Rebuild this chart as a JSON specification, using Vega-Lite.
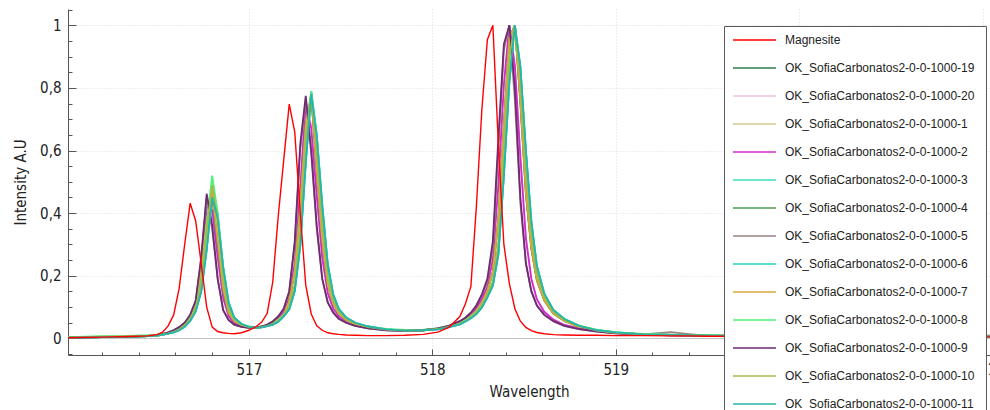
{
  "$schema": "https://vega.github.io/schema/vega-lite/v6.json",
  "width": 922,
  "height": 346,
  "autosize": {"type": "none"},
  "padding": {"left": 68, "top": 9, "right": 0, "bottom": 55},
  "background": "white",
  "config": {
    "view": {"stroke": null},
    "axis": {
      "labelFont": "DejaVu Sans Condensed, DejaVu Sans, sans-serif",
      "titleFont": "DejaVu Sans Condensed, DejaVu Sans, sans-serif",
      "labelFontSize": 15,
      "titleFontSize": 15,
      "titleFontWeight": "normal",
      "labelColor": "#222222",
      "titleColor": "#222222",
      "domainColor": "#555555",
      "tickColor": "#555555"
    }
  },
  "data": {
    "values": [
      {"x":516.0,"m":0.002,"a19":0.002,"a20":0.002,"a1":0.002,"a2":0.002,"a3":0.002,"a4":0.002,"a5":0.002,"a6":0.002,"a7":0.002,"a8":0.004,"a9":0.002,"a10":0.003,"a11":0.002},
      {"x":516.2,"m":0.004,"a19":0.004,"a20":0.004,"a1":0.004,"a2":0.004,"a3":0.004,"a4":0.004,"a5":0.004,"a6":0.004,"a7":0.004,"a8":0.007,"a9":0.004,"a10":0.006,"a11":0.004},
      {"x":516.35,"m":0.006,"a19":0.005,"a20":0.006,"a1":0.005,"a2":0.006,"a3":0.005,"a4":0.005,"a5":0.006,"a6":0.005,"a7":0.005,"a8":0.008,"a9":0.006,"a10":0.007,"a11":0.005},
      {"x":516.45,"m":0.008,"a19":0.007,"a20":0.008,"a1":0.007,"a2":0.008,"a3":0.007,"a4":0.007,"a5":0.008,"a6":0.007,"a7":0.007,"a8":0.01,"a9":0.008,"a10":0.009,"a11":0.007},
      {"x":516.5,"m":0.012,"a19":0.009,"a20":0.011,"a1":0.009,"a2":0.011,"a3":0.009,"a4":0.009,"a5":0.011,"a6":0.009,"a7":0.009,"a8":0.012,"a9":0.011,"a10":0.011,"a11":0.009},
      {"x":516.53,"m":0.02,"a19":0.012,"a20":0.014,"a1":0.012,"a2":0.014,"a3":0.012,"a4":0.012,"a5":0.014,"a6":0.012,"a7":0.012,"a8":0.015,"a9":0.014,"a10":0.013,"a11":0.012},
      {"x":516.56,"m":0.04,"a19":0.016,"a20":0.018,"a1":0.015,"a2":0.018,"a3":0.015,"a4":0.016,"a5":0.019,"a6":0.015,"a7":0.016,"a8":0.018,"a9":0.019,"a10":0.016,"a11":0.015},
      {"x":516.59,"m":0.075,"a19":0.022,"a20":0.024,"a1":0.02,"a2":0.024,"a3":0.019,"a4":0.022,"a5":0.026,"a6":0.019,"a7":0.022,"a8":0.023,"a9":0.026,"a10":0.021,"a11":0.019},
      {"x":516.62,"m":0.16,"a19":0.031,"a20":0.033,"a1":0.028,"a2":0.033,"a3":0.026,"a4":0.031,"a5":0.036,"a6":0.026,"a7":0.031,"a8":0.031,"a9":0.036,"a10":0.029,"a11":0.026},
      {"x":516.65,"m":0.3,"a19":0.045,"a20":0.046,"a1":0.04,"a2":0.046,"a3":0.037,"a4":0.045,"a5":0.05,"a6":0.037,"a7":0.045,"a8":0.043,"a9":0.05,"a10":0.041,"a11":0.037},
      {"x":516.68,"m":0.432,"a19":0.065,"a20":0.068,"a1":0.06,"a2":0.068,"a3":0.056,"a4":0.065,"a5":0.075,"a6":0.056,"a7":0.065,"a8":0.064,"a9":0.075,"a10":0.062,"a11":0.056},
      {"x":516.71,"m":0.375,"a19":0.115,"a20":0.1,"a1":0.095,"a2":0.1,"a3":0.086,"a4":0.115,"a5":0.12,"a6":0.086,"a7":0.115,"a8":0.1,"a9":0.12,"a10":0.097,"a11":0.086},
      {"x":516.74,"m":0.24,"a19":0.21,"a20":0.195,"a1":0.17,"a2":0.19,"a3":0.15,"a4":0.21,"a5":0.25,"a6":0.15,"a7":0.215,"a8":0.18,"a9":0.26,"a10":0.175,"a11":0.148},
      {"x":516.77,"m":0.1,"a19":0.37,"a20":0.41,"a1":0.33,"a2":0.42,"a3":0.29,"a4":0.36,"a5":0.45,"a6":0.285,"a7":0.375,"a8":0.36,"a9":0.462,"a10":0.345,"a11":0.28},
      {"x":516.8,"m":0.036,"a19":0.46,"a20":0.4,"a1":0.47,"a2":0.41,"a3":0.47,"a4":0.45,"a5":0.35,"a6":0.46,"a7":0.47,"a8":0.52,"a9":0.36,"a10":0.49,"a11":0.45},
      {"x":516.83,"m":0.022,"a19":0.31,"a20":0.25,"a1":0.36,"a2":0.26,"a3":0.4,"a4":0.3,"a5":0.19,"a6":0.39,"a7":0.315,"a8":0.4,"a9":0.19,"a10":0.375,"a11":0.385},
      {"x":516.86,"m":0.018,"a19":0.155,"a20":0.125,"a1":0.18,"a2":0.13,"a3":0.23,"a4":0.15,"a5":0.09,"a6":0.228,"a7":0.16,"a8":0.2,"a9":0.09,"a10":0.19,"a11":0.225},
      {"x":516.89,"m":0.016,"a19":0.08,"a20":0.07,"a1":0.09,"a2":0.071,"a3":0.115,"a4":0.08,"a5":0.058,"a6":0.114,"a7":0.082,"a8":0.1,"a9":0.058,"a10":0.092,"a11":0.112},
      {"x":516.92,"m":0.015,"a19":0.055,"a20":0.048,"a1":0.058,"a2":0.048,"a3":0.067,"a4":0.055,"a5":0.044,"a6":0.067,"a7":0.056,"a8":0.062,"a9":0.044,"a10":0.059,"a11":0.066},
      {"x":516.96,"m":0.018,"a19":0.042,"a20":0.039,"a1":0.043,"a2":0.039,"a3":0.046,"a4":0.042,"a5":0.037,"a6":0.046,"a7":0.042,"a8":0.045,"a9":0.037,"a10":0.043,"a11":0.046},
      {"x":517.0,"m":0.026,"a19":0.035,"a20":0.035,"a1":0.036,"a2":0.035,"a3":0.037,"a4":0.035,"a5":0.034,"a6":0.037,"a7":0.035,"a8":0.038,"a9":0.034,"a10":0.036,"a11":0.037},
      {"x":517.04,"m":0.038,"a19":0.034,"a20":0.035,"a1":0.034,"a2":0.035,"a3":0.034,"a4":0.034,"a5":0.035,"a6":0.034,"a7":0.034,"a8":0.036,"a9":0.035,"a10":0.034,"a11":0.034},
      {"x":517.07,"m":0.052,"a19":0.037,"a20":0.037,"a1":0.036,"a2":0.037,"a3":0.035,"a4":0.037,"a5":0.038,"a6":0.035,"a7":0.037,"a8":0.038,"a9":0.038,"a10":0.036,"a11":0.035},
      {"x":517.1,"m":0.08,"a19":0.042,"a20":0.042,"a1":0.04,"a2":0.042,"a3":0.039,"a4":0.042,"a5":0.044,"a6":0.039,"a7":0.042,"a8":0.042,"a9":0.044,"a10":0.04,"a11":0.039},
      {"x":517.13,"m":0.18,"a19":0.049,"a20":0.05,"a1":0.046,"a2":0.05,"a3":0.044,"a4":0.049,"a5":0.054,"a6":0.044,"a7":0.049,"a8":0.048,"a9":0.054,"a10":0.046,"a11":0.044},
      {"x":517.16,"m":0.39,"a19":0.06,"a20":0.064,"a1":0.056,"a2":0.064,"a3":0.053,"a4":0.06,"a5":0.07,"a6":0.053,"a7":0.06,"a8":0.058,"a9":0.07,"a10":0.056,"a11":0.053},
      {"x":517.19,"m":0.57,"a19":0.076,"a20":0.085,"a1":0.072,"a2":0.085,"a3":0.07,"a4":0.076,"a5":0.095,"a6":0.07,"a7":0.076,"a8":0.074,"a9":0.095,"a10":0.072,"a11":0.07},
      {"x":517.22,"m":0.748,"a19":0.119,"a20":0.128,"a1":0.1,"a2":0.128,"a3":0.093,"a4":0.119,"a5":0.15,"a6":0.093,"a7":0.119,"a8":0.1,"a9":0.15,"a10":0.1,"a11":0.093},
      {"x":517.25,"m":0.66,"a19":0.215,"a20":0.24,"a1":0.17,"a2":0.24,"a3":0.151,"a4":0.215,"a5":0.3,"a6":0.151,"a7":0.215,"a8":0.17,"a9":0.31,"a10":0.17,"a11":0.151},
      {"x":517.28,"m":0.4,"a19":0.42,"a20":0.48,"a1":0.34,"a2":0.48,"a3":0.295,"a4":0.42,"a5":0.6,"a6":0.295,"a7":0.42,"a8":0.34,"a9":0.62,"a10":0.34,"a11":0.295},
      {"x":517.31,"m":0.17,"a19":0.68,"a20":0.74,"a1":0.64,"a2":0.75,"a3":0.56,"a4":0.68,"a5":0.76,"a6":0.56,"a7":0.68,"a8":0.64,"a9":0.775,"a10":0.64,"a11":0.56},
      {"x":517.34,"m":0.078,"a19":0.78,"a20":0.68,"a1":0.78,"a2":0.67,"a3":0.79,"a4":0.77,"a5":0.59,"a6":0.785,"a7":0.78,"a8":0.79,"a9":0.6,"a10":0.78,"a11":0.78},
      {"x":517.37,"m":0.04,"a19":0.536,"a20":0.456,"a1":0.6,"a2":0.456,"a3":0.65,"a4":0.53,"a5":0.35,"a6":0.65,"a7":0.54,"a8":0.63,"a9":0.36,"a10":0.61,"a11":0.645},
      {"x":517.4,"m":0.026,"a19":0.315,"a20":0.258,"a1":0.36,"a2":0.258,"a3":0.424,"a4":0.31,"a5":0.19,"a6":0.43,"a7":0.315,"a8":0.39,"a9":0.19,"a10":0.37,"a11":0.42},
      {"x":517.43,"m":0.018,"a19":0.171,"a20":0.145,"a1":0.19,"a2":0.145,"a3":0.235,"a4":0.17,"a5":0.115,"a6":0.24,"a7":0.171,"a8":0.21,"a9":0.115,"a10":0.19,"a11":0.235},
      {"x":517.46,"m":0.015,"a19":0.111,"a20":0.095,"a1":0.12,"a2":0.095,"a3":0.139,"a4":0.11,"a5":0.082,"a6":0.14,"a7":0.111,"a8":0.13,"a9":0.082,"a10":0.12,"a11":0.139},
      {"x":517.49,"m":0.013,"a19":0.079,"a20":0.071,"a1":0.085,"a2":0.071,"a3":0.094,"a4":0.079,"a5":0.063,"a6":0.095,"a7":0.079,"a8":0.09,"a9":0.063,"a10":0.085,"a11":0.094},
      {"x":517.53,"m":0.011,"a19":0.059,"a20":0.054,"a1":0.062,"a2":0.054,"a3":0.067,"a4":0.059,"a5":0.05,"a6":0.067,"a7":0.059,"a8":0.065,"a9":0.05,"a10":0.062,"a11":0.067},
      {"x":517.58,"m":0.01,"a19":0.045,"a20":0.042,"a1":0.047,"a2":0.042,"a3":0.05,"a4":0.045,"a5":0.04,"a6":0.05,"a7":0.045,"a8":0.049,"a9":0.04,"a10":0.047,"a11":0.05},
      {"x":517.65,"m":0.009,"a19":0.035,"a20":0.033,"a1":0.036,"a2":0.033,"a3":0.038,"a4":0.035,"a5":0.032,"a6":0.038,"a7":0.035,"a8":0.038,"a9":0.032,"a10":0.036,"a11":0.038},
      {"x":517.75,"m":0.009,"a19":0.028,"a20":0.027,"a1":0.028,"a2":0.027,"a3":0.029,"a4":0.028,"a5":0.026,"a6":0.029,"a7":0.028,"a8":0.03,"a9":0.026,"a10":0.028,"a11":0.029},
      {"x":517.85,"m":0.01,"a19":0.025,"a20":0.024,"a1":0.025,"a2":0.024,"a3":0.025,"a4":0.025,"a5":0.024,"a6":0.025,"a7":0.025,"a8":0.027,"a9":0.024,"a10":0.025,"a11":0.025},
      {"x":517.95,"m":0.013,"a19":0.026,"a20":0.026,"a1":0.026,"a2":0.026,"a3":0.026,"a4":0.026,"a5":0.026,"a6":0.026,"a7":0.026,"a8":0.028,"a9":0.026,"a10":0.026,"a11":0.026},
      {"x":518.03,"m":0.02,"a19":0.031,"a20":0.031,"a1":0.03,"a2":0.031,"a3":0.029,"a4":0.031,"a5":0.032,"a6":0.029,"a7":0.031,"a8":0.032,"a9":0.032,"a10":0.03,"a11":0.029},
      {"x":518.09,"m":0.035,"a19":0.039,"a20":0.039,"a1":0.037,"a2":0.039,"a3":0.036,"a4":0.039,"a5":0.04,"a6":0.036,"a7":0.039,"a8":0.039,"a9":0.04,"a10":0.037,"a11":0.036},
      {"x":518.15,"m":0.07,"a19":0.05,"a20":0.052,"a1":0.047,"a2":0.052,"a3":0.045,"a4":0.05,"a5":0.055,"a6":0.045,"a7":0.05,"a8":0.049,"a9":0.055,"a10":0.047,"a11":0.045},
      {"x":518.18,"m":0.11,"a19":0.059,"a20":0.062,"a1":0.056,"a2":0.062,"a3":0.054,"a4":0.059,"a5":0.066,"a6":0.054,"a7":0.059,"a8":0.058,"a9":0.066,"a10":0.056,"a11":0.054},
      {"x":518.21,"m":0.165,"a19":0.071,"a20":0.076,"a1":0.067,"a2":0.076,"a3":0.064,"a4":0.071,"a5":0.082,"a6":0.064,"a7":0.071,"a8":0.069,"a9":0.082,"a10":0.067,"a11":0.064},
      {"x":518.24,"m":0.42,"a19":0.088,"a20":0.096,"a1":0.082,"a2":0.096,"a3":0.078,"a4":0.088,"a5":0.105,"a6":0.078,"a7":0.088,"a8":0.084,"a9":0.105,"a10":0.082,"a11":0.078},
      {"x":518.27,"m":0.73,"a19":0.114,"a20":0.126,"a1":0.105,"a2":0.126,"a3":0.099,"a4":0.114,"a5":0.14,"a6":0.099,"a7":0.114,"a8":0.105,"a9":0.14,"a10":0.105,"a11":0.099},
      {"x":518.3,"m":0.954,"a19":0.151,"a20":0.164,"a1":0.14,"a2":0.164,"a3":0.131,"a4":0.151,"a5":0.18,"a6":0.131,"a7":0.151,"a8":0.14,"a9":0.19,"a10":0.14,"a11":0.131},
      {"x":518.33,"m":1.0,"a19":0.212,"a20":0.252,"a1":0.18,"a2":0.252,"a3":0.169,"a4":0.212,"a5":0.29,"a6":0.169,"a7":0.212,"a8":0.18,"a9":0.31,"a10":0.18,"a11":0.169},
      {"x":518.36,"m":0.62,"a19":0.38,"a20":0.49,"a1":0.3,"a2":0.49,"a3":0.268,"a4":0.38,"a5":0.6,"a6":0.268,"a7":0.38,"a8":0.29,"a9":0.64,"a10":0.3,"a11":0.268},
      {"x":518.39,"m":0.3,"a19":0.68,"a20":0.806,"a1":0.6,"a2":0.81,"a3":0.52,"a4":0.68,"a5":0.92,"a6":0.52,"a7":0.68,"a8":0.58,"a9":0.94,"a10":0.6,"a11":0.52},
      {"x":518.42,"m":0.175,"a19":0.96,"a20":1.0,"a1":0.9,"a2":1.0,"a3":0.82,"a4":0.96,"a5":1.0,"a6":0.82,"a7":0.96,"a8":0.89,"a9":1.0,"a10":0.9,"a11":0.82},
      {"x":518.45,"m":0.095,"a19":1.0,"a20":0.868,"a1":1.0,"a2":0.87,"a3":1.0,"a4":1.0,"a5":0.76,"a6":1.0,"a7":1.0,"a8":1.0,"a9":0.8,"a10":1.0,"a11":1.0},
      {"x":518.48,"m":0.055,"a19":0.76,"a20":0.576,"a1":0.82,"a2":0.58,"a3":0.868,"a4":0.75,"a5":0.43,"a6":0.87,"a7":0.76,"a8":0.85,"a9":0.45,"a10":0.83,"a11":0.865},
      {"x":518.51,"m":0.035,"a19":0.467,"a20":0.32,"a1":0.52,"a2":0.32,"a3":0.6,"a4":0.46,"a5":0.24,"a6":0.6,"a7":0.47,"a8":0.55,"a9":0.24,"a10":0.53,"a11":0.6},
      {"x":518.54,"m":0.025,"a19":0.288,"a20":0.186,"a1":0.32,"a2":0.19,"a3":0.373,"a4":0.285,"a5":0.15,"a6":0.373,"a7":0.29,"a8":0.35,"a9":0.15,"a10":0.33,"a11":0.37},
      {"x":518.57,"m":0.019,"a19":0.186,"a20":0.123,"a1":0.2,"a2":0.125,"a3":0.232,"a4":0.185,"a5":0.105,"a6":0.232,"a7":0.186,"a8":0.22,"a9":0.105,"a10":0.205,"a11":0.23},
      {"x":518.61,"m":0.015,"a19":0.122,"a20":0.084,"a1":0.13,"a2":0.085,"a3":0.144,"a4":0.121,"a5":0.075,"a6":0.144,"a7":0.122,"a8":0.14,"a9":0.075,"a10":0.133,"a11":0.143},
      {"x":518.66,"m":0.012,"a19":0.079,"a20":0.06,"a1":0.083,"a2":0.06,"a3":0.091,"a4":0.079,"a5":0.055,"a6":0.091,"a7":0.079,"a8":0.09,"a9":0.055,"a10":0.085,"a11":0.09},
      {"x":518.72,"m":0.011,"a19":0.056,"a20":0.043,"a1":0.058,"a2":0.043,"a3":0.062,"a4":0.056,"a5":0.04,"a6":0.062,"a7":0.056,"a8":0.062,"a9":0.04,"a10":0.059,"a11":0.062},
      {"x":518.8,"m":0.01,"a19":0.037,"a20":0.032,"a1":0.038,"a2":0.032,"a3":0.04,"a4":0.037,"a5":0.03,"a6":0.04,"a7":0.037,"a8":0.041,"a9":0.03,"a10":0.039,"a11":0.04},
      {"x":518.9,"m":0.01,"a19":0.025,"a20":0.023,"a1":0.025,"a2":0.023,"a3":0.026,"a4":0.025,"a5":0.022,"a6":0.026,"a7":0.025,"a8":0.027,"a9":0.022,"a10":0.025,"a11":0.026},
      {"x":519.0,"m":0.009,"a19":0.018,"a20":0.017,"a1":0.018,"a2":0.017,"a3":0.019,"a4":0.018,"a5":0.016,"a6":0.019,"a7":0.018,"a8":0.02,"a9":0.016,"a10":0.018,"a11":0.019},
      {"x":519.15,"m":0.009,"a19":0.013,"a20":0.012,"a1":0.013,"a2":0.012,"a3":0.013,"a4":0.013,"a5":0.013,"a6":0.013,"a7":0.013,"a8":0.014,"a9":0.012,"a10":0.013,"a11":0.013},
      {"x":519.3,"m":0.008,"a19":0.011,"a20":0.01,"a1":0.011,"a2":0.01,"a3":0.011,"a4":0.011,"a5":0.02,"a6":0.011,"a7":0.011,"a8":0.012,"a9":0.01,"a10":0.011,"a11":0.011},
      {"x":519.4,"m":0.008,"a19":0.01,"a20":0.009,"a1":0.01,"a2":0.009,"a3":0.01,"a4":0.01,"a5":0.014,"a6":0.01,"a7":0.01,"a8":0.011,"a9":0.009,"a10":0.01,"a11":0.01},
      {"x":519.5,"m":0.007,"a19":0.009,"a20":0.008,"a1":0.009,"a2":0.008,"a3":0.009,"a4":0.009,"a5":0.009,"a6":0.009,"a7":0.009,"a8":0.01,"a9":0.008,"a10":0.009,"a11":0.009},
      {"x":519.7,"m":0.007,"a19":0.008,"a20":0.007,"a1":0.008,"a2":0.007,"a3":0.008,"a4":0.008,"a5":0.007,"a6":0.008,"a7":0.008,"a8":0.009,"a9":0.007,"a10":0.008,"a11":0.008},
      {"x":520.0,"m":0.006,"a19":0.007,"a20":0.006,"a1":0.007,"a2":0.006,"a3":0.007,"a4":0.007,"a5":0.006,"a6":0.007,"a7":0.007,"a8":0.008,"a9":0.006,"a10":0.007,"a11":0.007},
      {"x":520.3,"m":0.005,"a19":0.006,"a20":0.006,"a1":0.006,"a2":0.006,"a3":0.006,"a4":0.006,"a5":0.006,"a6":0.006,"a7":0.006,"a8":0.007,"a9":0.006,"a10":0.006,"a11":0.006},
      {"x":520.6,"m":0.005,"a19":0.006,"a20":0.005,"a1":0.006,"a2":0.005,"a3":0.006,"a4":0.006,"a5":0.006,"a6":0.006,"a7":0.006,"a8":0.007,"a9":0.005,"a10":0.006,"a11":0.006},
      {"x":520.9,"m":0.005,"a19":0.005,"a20":0.005,"a1":0.005,"a2":0.005,"a3":0.005,"a4":0.005,"a5":0.014,"a6":0.005,"a7":0.005,"a8":0.006,"a9":0.005,"a10":0.005,"a11":0.005},
      {"x":521.1,"m":0.005,"a19":0.005,"a20":0.005,"a1":0.005,"a2":0.005,"a3":0.005,"a4":0.005,"a5":0.006,"a6":0.005,"a7":0.005,"a8":0.006,"a9":0.005,"a10":0.005,"a11":0.005}
    ]
  },
  "transform": [
    {"fold": ["m","a19","a20","a1","a2","a3","a4","a5","a6","a7","a8","a9","a10","a11"], "as": ["k","v"]}
  ],
  "layer": [
    {
      "transform": [{"filter": "datum.k != 'm'"}],
      "mark": {"type": "line", "strokeWidth": 1.8, "clip": true},
      "encoding": {
        "x": {
          "field": "x", "type": "quantitative",
          "scale": {"domain": [516.014, 521.04], "nice": false, "zero": false},
          "axis": {
            "orient": "bottom", "values": [517, 518, 519, 520, 521], "title": "Wavelength",
            "grid": true, "gridColor": "#dcdcdc", "gridDash": [1, 2],
            "tickSize": -6, "labelPadding": 13, "titlePadding": 7,
            "labelFlush": false, "labelOverlap": false
          }
        },
        "y": {
          "field": "v", "type": "quantitative",
          "scale": {"domain": [-0.053, 1.052], "nice": false, "zero": false},
          "axis": {
            "orient": "left", "values": [0, 0.2, 0.4, 0.6, 0.8, 1], "title": "Intensity A.U",
            "grid": true,
            "gridColor": {"condition": {"test": "datum.value === 0", "value": "#c4c4c4"}, "value": "#dcdcdc"},
            "gridDash": {"condition": {"test": "datum.value === 0", "value": []}, "value": [1, 2]},
            "tickSize": -8, "labelPadding": 15, "titlePadding": 11,
            "labelExpr": "replace(format(datum.value, '~g'), '.', ',')",
            "labelFlush": false, "labelOverlap": false
          }
        },
        "color": {
          "field": "k", "type": "nominal",
          "scale": {
            "domain": ["m","a19","a20","a1","a2","a3","a4","a5","a6","a7","a8","a9","a10","a11"],
            "range": ["#ff0000","#2e7d4a","#f0c0e4","#d8c890","#d428d0","#3cdcbc","#4a9e4a","#9c8080","#20d4c4","#d8a83c","#4cf07c","#6e2a72","#a8ba48","#28b4a8"]
          },
          "legend": {
            "orient": "none", "legendX": 656, "legendY": 17,
            "zindex": 5,
            "title": "\u00a0", "titleOrient": "right", "titlePadding": 12,
            "titleFont": "Liberation Sans", "titleFontSize": 12,
            "fillColor": "white", "strokeColor": "#5a5a5a",
            "padding": 0,
            "symbolType": "stroke", "symbolSize": 1849, "symbolStrokeWidth": 1.5,
            "symbolOffset": 8, "labelOffset": 8,
            "clipHeight": 28, "rowPadding": 0,
            "labelFont": "Liberation Sans", "labelFontSize": 12, "labelColor": "#222222",
            "labelLimit": 400,
            "labelExpr": "datum.value === 'm' ? 'Magnesite' : 'OK_SofiaCarbonatos2-0-0-1000-' + slice(datum.value, 1)"
          }
        }
      }
    },
    {
      "transform": [{"filter": "datum.k == 'm'"}],
      "mark": {"type": "line", "strokeWidth": 1.4, "clip": true},
      "encoding": {
        "x": {
          "field": "x", "type": "quantitative",
          "axis": {
            "orient": "bottom",
            "values": [516.2,516.4,516.6,516.8,517.2,517.4,517.6,517.8,518.2,518.4,518.6,518.8,519.2,519.4,519.6,519.8,520.2,520.4,520.6,520.8],
            "labels": false, "grid": false, "domain": false, "title": null, "tickSize": -3
          }
        },
        "y": {
          "field": "v", "type": "quantitative",
          "axis": {
            "orient": "left",
            "values": [-0.05,0.05,0.1,0.15,0.25,0.3,0.35,0.45,0.5,0.55,0.65,0.7,0.75,0.85,0.9,0.95,1.05],
            "labels": false, "grid": false, "domain": false, "title": null, "tickSize": -4
          }
        },
        "color": {"field": "k", "type": "nominal"}
      }
    }
  ],
  "resolve": {"axis": {"x": "independent", "y": "independent"}}
}
